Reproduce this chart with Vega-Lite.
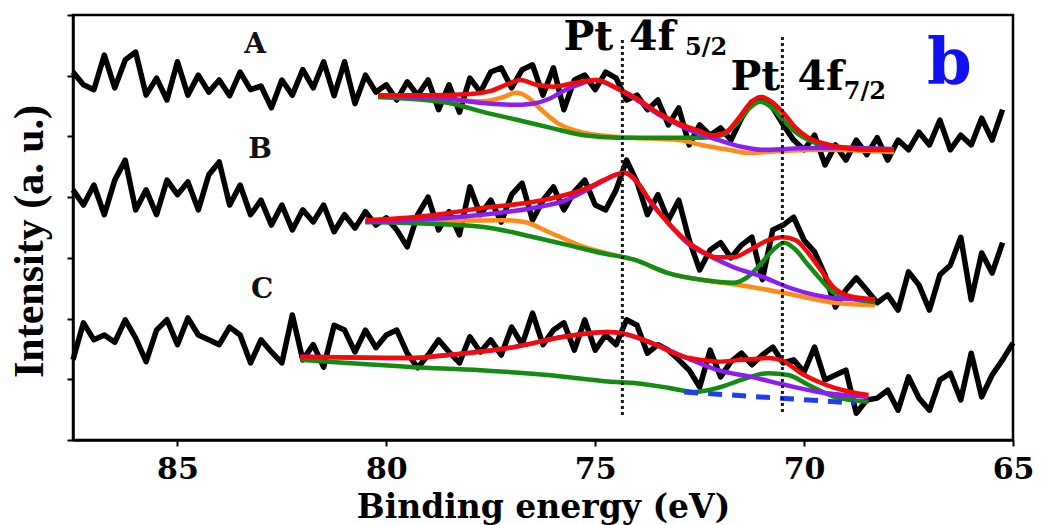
{
 "$schema": "https://vega.github.io/schema/vega-lite/v6.json",
 "width": 940, "height": 425,
 "autosize": "none",
 "padding": {"left": 73, "top": 15, "right": 33, "bottom": 85},
 "background": "white",
 "config": {"view": {"stroke": "black", "strokeWidth": 2.5}},
 "datasets": {
  "traces": [
   {"x":87.5,"A":6.06,"B":4.12,"C":1.32},{"x":87.25,"A":5.85,"B":3.87,"C":1.93},{"x":87.0,"A":5.77,"B":4.20,"C":1.65},{"x":86.75,"A":6.34,"B":3.71,"C":1.73},
   {"x":86.5,"A":5.80,"B":4.28,"C":1.61},{"x":86.25,"A":6.26,"B":4.61,"C":1.98},{"x":86.0,"A":6.39,"B":3.79,"C":1.68},{"x":85.75,"A":5.68,"B":4.12,"C":1.29},
   {"x":85.5,"A":5.96,"B":3.71,"C":1.81},{"x":85.25,"A":5.60,"B":4.28,"C":1.98},{"x":85.0,"A":6.23,"B":4.04,"C":1.57},{"x":84.75,"A":5.68,"B":4.25,"C":2.01},
   {"x":84.5,"A":6.01,"B":3.79,"C":1.73},{"x":84.25,"A":5.73,"B":4.37,"C":1.65},{"x":84.0,"A":5.93,"B":4.58,"C":1.57},{"x":83.75,"A":5.67,"B":3.87,"C":1.86},
   {"x":83.5,"A":6.06,"B":4.20,"C":1.73},{"x":83.25,"A":5.77,"B":3.71,"C":1.27},{"x":83.0,"A":5.83,"B":3.95,"C":1.65},{"x":82.75,"A":5.47,"B":3.54,"C":1.45},
   {"x":82.5,"A":5.93,"B":3.87,"C":1.27},{"x":82.25,"A":5.68,"B":3.46,"C":2.06},{"x":82.0,"A":6.10,"B":3.79,"C":1.32},{"x":81.75,"A":5.80,"B":3.59,"C":1.57},
   {"x":81.5,"A":6.23,"B":3.87,"C":1.20},{"x":81.25,"A":5.67,"B":3.43,"C":1.89},{"x":81.0,"A":6.23,"B":3.71,"C":1.81},{"x":80.75,"A":5.54,"B":3.49,"C":1.45},
   {"x":80.5,"A":6.01,"B":3.76,"C":1.81},{"x":80.25,"A":5.73,"B":3.54,"C":1.52},{"x":80.0,"A":5.85,"B":3.66,"C":1.73},{"x":79.75,"A":5.60,"B":3.46,"C":1.81},
   {"x":79.5,"A":5.90,"B":3.18,"C":1.43},{"x":79.25,"A":5.68,"B":3.71,"C":1.19},{"x":79.0,"A":5.93,"B":4.00,"C":1.40},{"x":78.75,"A":5.44,"B":3.46,"C":1.65},
   {"x":78.5,"A":5.85,"B":3.76,"C":1.45},{"x":78.25,"A":5.40,"B":3.38,"C":1.27},{"x":78.0,"A":5.96,"B":4.17,"C":1.70},{"x":77.75,"A":5.73,"B":3.71,"C":1.45},
   {"x":77.5,"A":6.06,"B":3.95,"C":1.65},{"x":77.25,"A":6.13,"B":3.59,"C":1.40},{"x":77.0,"A":5.80,"B":4.04,"C":1.86},{"x":76.75,"A":6.10,"B":4.23,"C":1.57},
   {"x":76.5,"A":6.18,"B":3.62,"C":2.09},{"x":76.25,"A":5.68,"B":3.95,"C":1.57},{"x":76.0,"A":6.13,"B":4.17,"C":1.81},{"x":75.75,"A":5.44,"B":3.79,"C":1.93},
   {"x":75.5,"A":5.93,"B":4.09,"C":1.48},{"x":75.25,"A":6.01,"B":4.28,"C":1.98},{"x":75.0,"A":5.77,"B":3.87,"C":1.48},{"x":74.75,"A":6.06,"B":3.79,"C":1.73},
   {"x":74.5,"A":5.96,"B":4.12,"C":1.57},{"x":74.25,"A":5.60,"B":4.61,"C":1.98},{"x":74.0,"A":5.68,"B":4.25,"C":1.89},{"x":73.75,"A":5.44,"B":3.71,"C":1.43},
   {"x":73.5,"A":5.60,"B":4.04,"C":1.57},{"x":73.25,"A":5.19,"B":3.62,"C":1.48},{"x":73.0,"A":5.47,"B":3.95,"C":1.32},{"x":72.75,"A":4.86,"B":3.29,"C":1.15},
   {"x":72.5,"A":5.19,"B":2.80,"C":0.87},{"x":72.25,"A":5.02,"B":3.13,"C":1.48},{"x":72.0,"A":5.14,"B":3.25,"C":1.04},{"x":71.75,"A":4.94,"B":3.00,"C":1.29},
   {"x":71.5,"A":5.30,"B":3.21,"C":1.43},{"x":71.25,"A":5.57,"B":3.34,"C":1.24},{"x":71.0,"A":5.64,"B":2.64,"C":1.40},{"x":70.75,"A":5.47,"B":3.46,"C":1.53},
   {"x":70.5,"A":5.19,"B":3.54,"C":1.27},{"x":70.25,"A":4.94,"B":3.67,"C":1.32},{"x":70.0,"A":4.78,"B":3.29,"C":1.12},{"x":69.75,"A":5.02,"B":3.10,"C":1.53},
   {"x":69.5,"A":4.53,"B":2.72,"C":0.99},{"x":69.25,"A":4.86,"B":2.19,"C":1.07},{"x":69.0,"A":4.61,"B":2.47,"C":1.15},{"x":68.75,"A":4.94,"B":2.67,"C":0.44},
   {"x":68.5,"A":4.70,"B":2.47,"C":0.66},{"x":68.25,"A":4.98,"B":2.26,"C":0.69},{"x":68.0,"A":4.61,"B":2.39,"C":0.82},{"x":67.75,"A":4.94,"B":2.14,"C":0.49},
   {"x":67.5,"A":4.78,"B":2.77,"C":1.04},{"x":67.25,"A":5.07,"B":2.55,"C":0.69},{"x":67.0,"A":4.86,"B":2.14,"C":0.49},{"x":66.75,"A":5.27,"B":2.72,"C":0.99},
   {"x":66.5,"A":4.78,"B":2.88,"C":1.10},{"x":66.25,"A":5.02,"B":3.34,"C":0.66},{"x":66.0,"A":4.86,"B":2.31,"C":1.43},{"x":65.75,"A":5.30,"B":3.08,"C":0.71},
   {"x":65.5,"A":4.94,"B":2.75,"C":1.07},{"x":65.25,"A":5.44,"B":3.25,"C":1.32},{"x":65.0,"A":null,"B":null,"C":1.60}
  ],
  "fits": [
   {"s":"A","c":"envelope","x":80.2,"y":5.68},{"s":"A","c":"envelope","x":79.0,"y":5.68},{"s":"A","c":"envelope","x":78.0,"y":5.70},{"s":"A","c":"envelope","x":77.5,"y":5.75},
   {"s":"A","c":"envelope","x":77.1,"y":5.86},{"s":"A","c":"envelope","x":76.8,"y":5.93},{"s":"A","c":"envelope","x":76.4,"y":5.85},{"s":"A","c":"envelope","x":76.0,"y":5.82},
   {"s":"A","c":"envelope","x":75.5,"y":5.88},{"s":"A","c":"envelope","x":75.0,"y":5.93},{"s":"A","c":"envelope","x":74.5,"y":5.80},{"s":"A","c":"envelope","x":74.0,"y":5.62},
   {"s":"A","c":"envelope","x":73.5,"y":5.39},{"s":"A","c":"envelope","x":73.0,"y":5.21},{"s":"A","c":"envelope","x":72.5,"y":5.09},{"s":"A","c":"envelope","x":72.2,"y":5.02},
   {"s":"A","c":"envelope","x":71.9,"y":5.06},{"s":"A","c":"envelope","x":71.6,"y":5.27},{"s":"A","c":"envelope","x":71.3,"y":5.54},{"s":"A","c":"envelope","x":71.05,"y":5.65},
   {"s":"A","c":"envelope","x":70.8,"y":5.58},{"s":"A","c":"envelope","x":70.5,"y":5.39},{"s":"A","c":"envelope","x":70.2,"y":5.14},{"s":"A","c":"envelope","x":69.9,"y":4.98},
   {"s":"A","c":"envelope","x":69.5,"y":4.88},{"s":"A","c":"envelope","x":69.0,"y":4.81},{"s":"A","c":"envelope","x":68.4,"y":4.78},{"s":"A","c":"envelope","x":67.85,"y":4.78},

   {"s":"A","c":"comp1","x":80.2,"y":5.67},{"s":"A","c":"comp1","x":78.5,"y":5.62},{"s":"A","c":"comp1","x":77.7,"y":5.55},{"s":"A","c":"comp1","x":77.0,"y":5.52},
   {"s":"A","c":"comp1","x":76.5,"y":5.54},{"s":"A","c":"comp1","x":76.1,"y":5.62},{"s":"A","c":"comp1","x":75.7,"y":5.77},{"s":"A","c":"comp1","x":75.3,"y":5.88},
   {"s":"A","c":"comp1","x":75.0,"y":5.93},{"s":"A","c":"comp1","x":74.5,"y":5.80},{"s":"A","c":"comp1","x":74.0,"y":5.60},{"s":"A","c":"comp1","x":73.5,"y":5.37},
   {"s":"A","c":"comp1","x":73.0,"y":5.19},{"s":"A","c":"comp1","x":72.5,"y":5.04},{"s":"A","c":"comp1","x":72.0,"y":4.93},{"s":"A","c":"comp1","x":71.5,"y":4.83},
   {"s":"A","c":"comp1","x":71.0,"y":4.78},{"s":"A","c":"comp1","x":70.5,"y":4.79},{"s":"A","c":"comp1","x":70.0,"y":4.81},{"s":"A","c":"comp1","x":69.0,"y":4.81},
   {"s":"A","c":"comp1","x":67.85,"y":4.79},

   {"s":"A","c":"comp2","x":80.2,"y":5.65},{"s":"A","c":"comp2","x":78.5,"y":5.60},{"s":"A","c":"comp2","x":77.7,"y":5.58},{"s":"A","c":"comp2","x":77.2,"y":5.65},
   {"s":"A","c":"comp2","x":76.9,"y":5.72},{"s":"A","c":"comp2","x":76.6,"y":5.64},{"s":"A","c":"comp2","x":76.37,"y":5.49},{"s":"A","c":"comp2","x":75.9,"y":5.22},
   {"s":"A","c":"comp2","x":75.27,"y":5.06},{"s":"A","c":"comp2","x":74.45,"y":4.99},{"s":"A","c":"comp2","x":73.0,"y":4.94},{"s":"A","c":"comp2","x":72.46,"y":4.86},
   {"s":"A","c":"comp2","x":71.8,"y":4.78},{"s":"A","c":"comp2","x":71.34,"y":4.73},{"s":"A","c":"comp2","x":70.5,"y":4.76},{"s":"A","c":"comp2","x":69.5,"y":4.78},
   {"s":"A","c":"comp2","x":67.85,"y":4.74},

   {"s":"A","c":"comp3","x":80.2,"y":5.65},{"s":"A","c":"comp3","x":78.5,"y":5.55},{"s":"A","c":"comp3","x":77.67,"y":5.40},{"s":"A","c":"comp3","x":76.85,"y":5.27},
   {"s":"A","c":"comp3","x":76.06,"y":5.14},{"s":"A","c":"comp3","x":75.27,"y":5.02},{"s":"A","c":"comp3","x":74.45,"y":4.98},{"s":"A","c":"comp3","x":73.5,"y":4.98},
   {"s":"A","c":"comp3","x":72.5,"y":4.98},{"s":"A","c":"comp3","x":72.2,"y":4.99},{"s":"A","c":"comp3","x":71.9,"y":5.04},{"s":"A","c":"comp3","x":71.6,"y":5.22},
   {"s":"A","c":"comp3","x":71.3,"y":5.47},{"s":"A","c":"comp3","x":71.05,"y":5.57},{"s":"A","c":"comp3","x":70.8,"y":5.49},{"s":"A","c":"comp3","x":70.5,"y":5.27},
   {"s":"A","c":"comp3","x":70.2,"y":5.07},{"s":"A","c":"comp3","x":69.9,"y":4.94},{"s":"A","c":"comp3","x":69.27,"y":4.83},{"s":"A","c":"comp3","x":67.85,"y":4.79},

   {"s":"B","c":"envelope","x":80.5,"y":3.62},{"s":"B","c":"envelope","x":79.5,"y":3.66},{"s":"B","c":"envelope","x":78.5,"y":3.74},{"s":"B","c":"envelope","x":77.7,"y":3.82},
   {"s":"B","c":"envelope","x":76.5,"y":3.92},{"s":"B","c":"envelope","x":75.7,"y":4.04},{"s":"B","c":"envelope","x":75.2,"y":4.15},{"s":"B","c":"envelope","x":74.8,"y":4.28},
   {"s":"B","c":"envelope","x":74.5,"y":4.37},{"s":"B","c":"envelope","x":74.3,"y":4.40},{"s":"B","c":"envelope","x":74.0,"y":4.25},{"s":"B","c":"envelope","x":73.7,"y":3.95},
   {"s":"B","c":"envelope","x":73.3,"y":3.61},{"s":"B","c":"envelope","x":72.9,"y":3.33},{"s":"B","c":"envelope","x":72.5,"y":3.13},{"s":"B","c":"envelope","x":72.1,"y":3.01},
   {"s":"B","c":"envelope","x":71.7,"y":3.01},{"s":"B","c":"envelope","x":71.3,"y":3.13},{"s":"B","c":"envelope","x":70.9,"y":3.28},{"s":"B","c":"envelope","x":70.5,"y":3.34},
   {"s":"B","c":"envelope","x":70.2,"y":3.29},{"s":"B","c":"envelope","x":69.9,"y":3.08},{"s":"B","c":"envelope","x":69.6,"y":2.80},{"s":"B","c":"envelope","x":69.3,"y":2.52},
   {"s":"B","c":"envelope","x":68.9,"y":2.37},{"s":"B","c":"envelope","x":68.3,"y":2.32},

   {"s":"B","c":"comp1","x":80.5,"y":3.59},{"s":"B","c":"comp1","x":79.5,"y":3.62},{"s":"B","c":"comp1","x":78.5,"y":3.66},{"s":"B","c":"comp1","x":77.7,"y":3.71},
   {"s":"B","c":"comp1","x":76.5,"y":3.82},{"s":"B","c":"comp1","x":75.7,"y":3.95},{"s":"B","c":"comp1","x":75.2,"y":4.12},{"s":"B","c":"comp1","x":74.8,"y":4.27},
   {"s":"B","c":"comp1","x":74.5,"y":4.37},{"s":"B","c":"comp1","x":74.3,"y":4.40},{"s":"B","c":"comp1","x":74.0,"y":4.25},{"s":"B","c":"comp1","x":73.7,"y":3.94},
   {"s":"B","c":"comp1","x":73.3,"y":3.61},{"s":"B","c":"comp1","x":72.8,"y":3.25},{"s":"B","c":"comp1","x":72.2,"y":3.01},{"s":"B","c":"comp1","x":71.7,"y":2.85},
   {"s":"B","c":"comp1","x":71.0,"y":2.69},{"s":"B","c":"comp1","x":70.4,"y":2.52},{"s":"B","c":"comp1","x":69.75,"y":2.39},{"s":"B","c":"comp1","x":69.3,"y":2.34},
   {"s":"B","c":"comp1","x":68.3,"y":2.31},

   {"s":"B","c":"comp2","x":80.5,"y":3.59},{"s":"B","c":"comp2","x":78.5,"y":3.61},{"s":"B","c":"comp2","x":77.2,"y":3.62},{"s":"B","c":"comp2","x":76.7,"y":3.59},
   {"s":"B","c":"comp2","x":76.06,"y":3.41},{"s":"B","c":"comp2","x":75.27,"y":3.18},{"s":"B","c":"comp2","x":74.31,"y":3.01},{"s":"B","c":"comp2","x":74.07,"y":2.97},
   {"s":"B","c":"comp2","x":73.26,"y":2.75},{"s":"B","c":"comp2","x":72.46,"y":2.64},{"s":"B","c":"comp2","x":71.26,"y":2.52},{"s":"B","c":"comp2","x":70.47,"y":2.42},
   {"s":"B","c":"comp2","x":69.27,"y":2.26},{"s":"B","c":"comp2","x":68.3,"y":2.22},

   {"s":"B","c":"comp3","x":80.5,"y":3.59},{"s":"B","c":"comp3","x":79.25,"y":3.57},{"s":"B","c":"comp3","x":77.67,"y":3.51},{"s":"B","c":"comp3","x":76.47,"y":3.34},
   {"s":"B","c":"comp3","x":75.65,"y":3.21},{"s":"B","c":"comp3","x":74.86,"y":3.08},{"s":"B","c":"comp3","x":74.07,"y":2.97},{"s":"B","c":"comp3","x":73.26,"y":2.75},
   {"s":"B","c":"comp3","x":72.46,"y":2.64},{"s":"B","c":"comp3","x":71.67,"y":2.59},{"s":"B","c":"comp3","x":71.34,"y":2.69},{"s":"B","c":"comp3","x":71.0,"y":2.93},
   {"s":"B","c":"comp3","x":70.7,"y":3.16},{"s":"B","c":"comp3","x":70.47,"y":3.25},{"s":"B","c":"comp3","x":70.2,"y":3.13},{"s":"B","c":"comp3","x":69.9,"y":2.88},
   {"s":"B","c":"comp3","x":69.66,"y":2.69},{"s":"B","c":"comp3","x":69.27,"y":2.42},{"s":"B","c":"comp3","x":68.3,"y":2.27},

   {"s":"C","c":"envelope","x":82.06,"y":1.37},{"s":"C","c":"envelope","x":79.35,"y":1.35},{"s":"C","c":"envelope","x":78.53,"y":1.40},{"s":"C","c":"envelope","x":76.95,"y":1.53},
   {"s":"C","c":"envelope","x":75.75,"y":1.70},{"s":"C","c":"envelope","x":74.69,"y":1.78},{"s":"C","c":"envelope","x":74.38,"y":1.76},{"s":"C","c":"envelope","x":73.66,"y":1.60},
   {"s":"C","c":"envelope","x":72.87,"y":1.37},{"s":"C","c":"envelope","x":72.46,"y":1.32},{"s":"C","c":"envelope","x":72.06,"y":1.29},{"s":"C","c":"envelope","x":71.5,"y":1.32},
   {"s":"C","c":"envelope","x":70.86,"y":1.35},{"s":"C","c":"envelope","x":70.47,"y":1.29},{"s":"C","c":"envelope","x":70.07,"y":1.10},{"s":"C","c":"envelope","x":69.66,"y":0.96},
   {"s":"C","c":"envelope","x":69.27,"y":0.86},{"s":"C","c":"envelope","x":68.46,"y":0.74},

   {"s":"C","c":"comp1","x":82.06,"y":1.37},{"s":"C","c":"comp1","x":79.35,"y":1.35},{"s":"C","c":"comp1","x":78.53,"y":1.40},{"s":"C","c":"comp1","x":76.95,"y":1.53},
   {"s":"C","c":"comp1","x":75.75,"y":1.70},{"s":"C","c":"comp1","x":74.69,"y":1.78},{"s":"C","c":"comp1","x":74.38,"y":1.76},{"s":"C","c":"comp1","x":73.66,"y":1.60},
   {"s":"C","c":"comp1","x":72.87,"y":1.37},{"s":"C","c":"comp1","x":72.06,"y":1.15},{"s":"C","c":"comp1","x":71.27,"y":1.04},{"s":"C","c":"comp1","x":70.47,"y":0.91},
   {"s":"C","c":"comp1","x":69.66,"y":0.79},{"s":"C","c":"comp1","x":68.46,"y":0.71},

   {"s":"C","c":"comp3","x":82.06,"y":1.32},{"s":"C","c":"comp3","x":79.35,"y":1.20},{"s":"C","c":"comp3","x":77.74,"y":1.15},{"s":"C","c":"comp3","x":76.13,"y":1.07},
   {"s":"C","c":"comp3","x":74.62,"y":0.96},{"s":"C","c":"comp3","x":74.07,"y":0.94},{"s":"C","c":"comp3","x":73.26,"y":0.86},{"s":"C","c":"comp3","x":72.63,"y":0.79},
   {"s":"C","c":"comp3","x":72.06,"y":0.86},{"s":"C","c":"comp3","x":71.5,"y":0.99},{"s":"C","c":"comp3","x":70.86,"y":1.10},{"s":"C","c":"comp3","x":70.38,"y":1.07},
   {"s":"C","c":"comp3","x":69.9,"y":0.91},{"s":"C","c":"comp3","x":69.27,"y":0.71},{"s":"C","c":"comp3","x":68.46,"y":0.63},

   {"s":"C","c":"background","x":72.87,"y":0.79},{"s":"C","c":"background","x":68.79,"y":0.61}
  ],
  "peaks": [
   {"x":74.35,"y":0.41,"y2":6.59},{"x":70.52,"y":0.46,"y2":6.64}
  ],
  "notes": [
   {"k":"trace","x":83.14,"y":6.38,"t":"A"},
   {"k":"trace","x":83.02,"y":4.65,"t":"B"},
   {"k":"trace","x":82.97,"y":2.34,"t":"C"},
   {"k":"pt","x":74.57,"y":6.43,"t":"Pt"},
   {"k":"orb","x":74.19,"y":6.43,"t":"4f"},
   {"k":"sub","x":72.85,"y":6.34,"t":"5/2"},
   {"k":"pt","x":70.57,"y":5.77,"t":"Pt"},
   {"k":"orb","x":70.16,"y":5.77,"t":"4f"},
   {"k":"sub","x":69.05,"y":5.62,"t":"7/2"},
   {"k":"panel","x":66.52,"y":5.88,"t":"b"}
  ]
 },
 "layer": [
  {
   "data": {"name": "traces"},
   "transform": [{"fold": ["A", "B", "C"], "as": ["spec", "y"]}],
   "mark": {"type": "line", "color": "black", "strokeWidth": 5.5, "strokeJoin": "round"},
   "encoding": {
    "x": {"field": "x", "type": "quantitative",
     "scale": {"domain": [65, 87.5], "reverse": true, "nice": false, "zero": false},
     "axis": {"values": [85, 80, 75, 70, 65], "format": "d", "grid": false,
      "title": "Binding energy (eV)", "titleFont": "DejaVu Serif", "titleFontSize": 33, "titleFontWeight": "bold",
      "titleColor": "black", "titleBaseline": "alphabetic", "titleY": 77,
      "labelFont": "DejaVu Serif", "labelFontSize": 30, "labelFontWeight": "bold", "labelColor": "black",
      "labelFlush": false, "labelPadding": 8, "tickSize": 6, "tickWidth": 2, "tickColor": "black",
      "domainColor": "black", "domainWidth": 2.5}},
    "y": {"field": "y", "type": "quantitative",
     "scale": {"domain": [0, 7], "nice": false, "zero": false},
     "axis": {"values": [0, 1, 2, 3, 4, 5, 6, 7], "labels": false, "grid": false,
      "title": "Intensity (a. u.)", "titleFont": "Liberation Serif", "titleFontSize": 42, "titleFontWeight": "bold",
      "titleColor": "black", "titleX": -22, "titleY": 226,
      "tickSize": 6, "tickWidth": 2, "tickColor": "black", "domainColor": "black", "domainWidth": 2.5}},
    "detail": {"field": "spec"}
   }
  },
  {
   "data": {"name": "fits"},
   "transform": [{"filter": "datum.c == 'comp2'"}],
   "mark": {"type": "line", "color": "#ff8c1a", "strokeWidth": 4.5, "interpolate": "monotone"},
   "encoding": {
    "x": {"field": "x", "type": "quantitative", "scale": {"domain": [65, 87.5], "reverse": true, "nice": false, "zero": false}},
    "y": {"field": "y", "type": "quantitative", "scale": {"domain": [0, 7], "nice": false, "zero": false}},
    "detail": {"field": "s"}
   }
  },
  {
   "data": {"name": "fits"},
   "transform": [{"filter": "datum.c == 'comp3'"}],
   "mark": {"type": "line", "color": "#148c14", "strokeWidth": 4.5, "interpolate": "monotone"},
   "encoding": {
    "x": {"field": "x", "type": "quantitative", "scale": {"domain": [65, 87.5], "reverse": true, "nice": false, "zero": false}},
    "y": {"field": "y", "type": "quantitative", "scale": {"domain": [0, 7], "nice": false, "zero": false}},
    "detail": {"field": "s"}
   }
  },
  {
   "data": {"name": "fits"},
   "transform": [{"filter": "datum.c == 'comp1'"}],
   "mark": {"type": "line", "color": "#8b1ef0", "strokeWidth": 4.5, "interpolate": "monotone"},
   "encoding": {
    "x": {"field": "x", "type": "quantitative", "scale": {"domain": [65, 87.5], "reverse": true, "nice": false, "zero": false}},
    "y": {"field": "y", "type": "quantitative", "scale": {"domain": [0, 7], "nice": false, "zero": false}},
    "detail": {"field": "s"}
   }
  },
  {
   "data": {"name": "fits"},
   "transform": [{"filter": "datum.c == 'envelope'"}],
   "mark": {"type": "line", "color": "#f50a0a", "strokeWidth": 4.5, "interpolate": "monotone"},
   "encoding": {
    "x": {"field": "x", "type": "quantitative", "scale": {"domain": [65, 87.5], "reverse": true, "nice": false, "zero": false}},
    "y": {"field": "y", "type": "quantitative", "scale": {"domain": [0, 7], "nice": false, "zero": false}},
    "detail": {"field": "s"}
   }
  },
  {
   "data": {"name": "fits"},
   "transform": [{"filter": "datum.c == 'background'"}],
   "mark": {"type": "line", "color": "#1f3cf5", "strokeWidth": 5, "strokeDash": [14, 10]},
   "encoding": {
    "x": {"field": "x", "type": "quantitative", "scale": {"domain": [65, 87.5], "reverse": true, "nice": false, "zero": false}},
    "y": {"field": "y", "type": "quantitative", "scale": {"domain": [0, 7], "nice": false, "zero": false}},
    "detail": {"field": "s"}
   }
  },
  {
   "data": {"name": "peaks"},
   "mark": {"type": "rule", "color": "#1a1a1a", "strokeWidth": 3, "strokeDash": [3, 3]},
   "encoding": {
    "x": {"field": "x", "type": "quantitative", "scale": {"domain": [65, 87.5], "reverse": true, "nice": false, "zero": false}},
    "y": {"field": "y", "type": "quantitative", "scale": {"domain": [0, 7], "nice": false, "zero": false}},
    "y2": {"field": "y2"}
   }
  },
  {
   "data": {"name": "notes"},
   "transform": [{"filter": "datum.k == 'trace'"}],
   "mark": {"type": "text", "font": "DejaVu Serif", "fontWeight": "bold", "fontSize": 28, "color": "#111111", "align": "center", "baseline": "alphabetic"},
   "encoding": {
    "x": {"field": "x", "type": "quantitative", "scale": {"domain": [65, 87.5], "reverse": true, "nice": false, "zero": false}},
    "y": {"field": "y", "type": "quantitative", "scale": {"domain": [0, 7], "nice": false, "zero": false}},
    "text": {"field": "t"}
   }
  },
  {
   "data": {"name": "notes"},
   "transform": [{"filter": "datum.k == 'pt'"}],
   "mark": {"type": "text", "font": "DejaVu Serif", "fontWeight": "bold", "fontSize": 41, "color": "black", "align": "right", "baseline": "alphabetic"},
   "encoding": {
    "x": {"field": "x", "type": "quantitative", "scale": {"domain": [65, 87.5], "reverse": true, "nice": false, "zero": false}},
    "y": {"field": "y", "type": "quantitative", "scale": {"domain": [0, 7], "nice": false, "zero": false}},
    "text": {"field": "t"}
   }
  },
  {
   "data": {"name": "notes"},
   "transform": [{"filter": "datum.k == 'orb'"}],
   "mark": {"type": "text", "font": "DejaVu Serif", "fontWeight": "bold", "fontSize": 41, "color": "black", "align": "left", "baseline": "alphabetic"},
   "encoding": {
    "x": {"field": "x", "type": "quantitative", "scale": {"domain": [65, 87.5], "reverse": true, "nice": false, "zero": false}},
    "y": {"field": "y", "type": "quantitative", "scale": {"domain": [0, 7], "nice": false, "zero": false}},
    "text": {"field": "t"}
   }
  },
  {
   "data": {"name": "notes"},
   "transform": [{"filter": "datum.k == 'sub'"}],
   "mark": {"type": "text", "font": "DejaVu Serif", "fontWeight": "bold", "fontSize": 24, "color": "black", "align": "left", "baseline": "alphabetic"},
   "encoding": {
    "x": {"field": "x", "type": "quantitative", "scale": {"domain": [65, 87.5], "reverse": true, "nice": false, "zero": false}},
    "y": {"field": "y", "type": "quantitative", "scale": {"domain": [0, 7], "nice": false, "zero": false}},
    "text": {"field": "t"}
   }
  },
  {
   "data": {"name": "notes"},
   "transform": [{"filter": "datum.k == 'panel'"}],
   "mark": {"type": "text", "font": "DejaVu Serif", "fontWeight": "bold", "fontSize": 64, "color": "#1010f0", "align": "center", "baseline": "alphabetic"},
   "encoding": {
    "x": {"field": "x", "type": "quantitative", "scale": {"domain": [65, 87.5], "reverse": true, "nice": false, "zero": false}},
    "y": {"field": "y", "type": "quantitative", "scale": {"domain": [0, 7], "nice": false, "zero": false}},
    "text": {"field": "t"}
   }
  }
 ]
}
